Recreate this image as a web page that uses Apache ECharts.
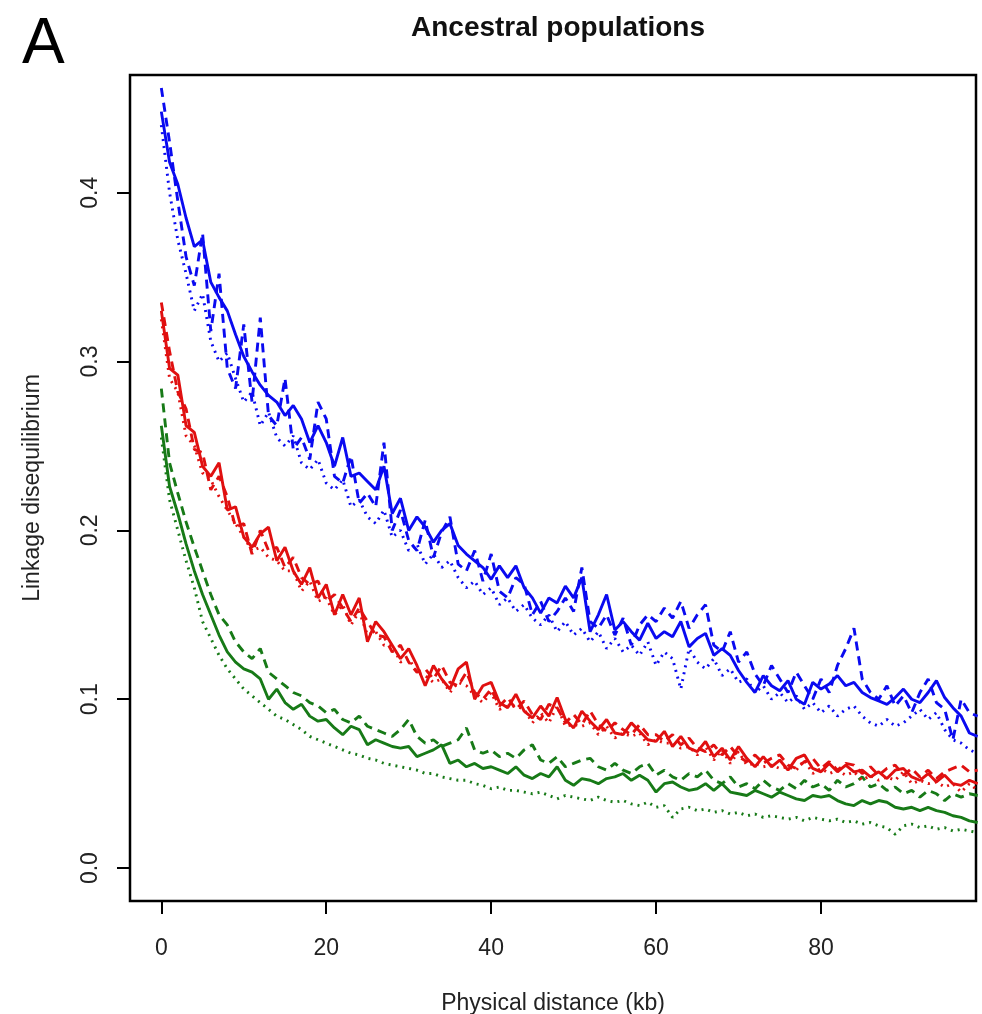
<!DOCTYPE html>
<html>
<head>
<meta charset="utf-8">
<title>Ancestral populations</title>
<script src="https://cdn.jsdelivr.net/npm/echarts@6/dist/echarts.min.js"></script>
<style>
  html, body { margin: 0; padding: 0; background: #fff; }
  #chart { width: 982px; height: 1014px; }
</style>
</head>
<body>
<div id="chart"></div>
<script>
// LD decay, one value per kb (0..99)
var xTicks = [0, 20, 40, 60, 80];
var yTicks = [0, 0.1, 0.2, 0.3, 0.4];

var blueSolid = [0.448,0.418,0.405,0.385,0.368,0.372,0.347,0.338,0.330,0.316,
  0.303,0.294,0.286,0.280,0.276,0.268,0.274,0.266,0.252,0.262,
  0.252,0.238,0.255,0.232,0.234,0.229,0.224,0.238,0.210,0.219,
  0.200,0.208,0.202,0.193,0.200,0.204,0.191,0.186,0.182,0.178,
  0.171,0.179,0.172,0.179,0.166,0.160,0.151,0.160,0.157,0.167,
  0.160,0.172,0.140,0.150,0.162,0.141,0.146,0.140,0.135,0.145,
  0.136,0.140,0.137,0.146,0.131,0.136,0.139,0.126,0.130,0.126,
  0.117,0.110,0.104,0.114,0.108,0.105,0.111,0.100,0.097,0.110,
  0.106,0.109,0.114,0.108,0.110,0.104,0.101,0.099,0.097,0.101,
  0.106,0.100,0.098,0.104,0.111,0.101,0.095,0.090,0.080,0.078];
var blueDash = [0.462,0.430,0.395,0.362,0.345,0.376,0.318,0.352,0.296,0.284,
  0.322,0.276,0.326,0.268,0.262,0.290,0.248,0.255,0.242,0.276,
  0.266,0.232,0.228,0.244,0.216,0.222,0.214,0.252,0.200,0.212,
  0.194,0.188,0.206,0.184,0.199,0.208,0.180,0.176,0.188,0.170,
  0.186,0.164,0.160,0.172,0.168,0.150,0.158,0.146,0.152,0.160,
  0.152,0.178,0.146,0.142,0.150,0.138,0.148,0.132,0.144,0.150,
  0.146,0.154,0.148,0.158,0.142,0.150,0.156,0.132,0.128,0.140,
  0.122,0.128,0.115,0.108,0.120,0.112,0.104,0.116,0.108,0.100,
  0.112,0.104,0.120,0.130,0.142,0.112,0.104,0.100,0.108,0.096,
  0.102,0.092,0.104,0.112,0.098,0.094,0.076,0.100,0.092,0.090];
var blueDot = [0.440,0.400,0.372,0.352,0.330,0.340,0.312,0.300,0.305,0.290,
  0.276,0.282,0.262,0.270,0.255,0.250,0.256,0.240,0.236,0.242,
  0.228,0.224,0.230,0.214,0.218,0.208,0.204,0.212,0.196,0.200,
  0.188,0.192,0.180,0.186,0.178,0.182,0.172,0.166,0.170,0.162,
  0.166,0.156,0.160,0.152,0.156,0.148,0.144,0.150,0.140,0.146,
  0.138,0.142,0.134,0.140,0.130,0.136,0.128,0.132,0.126,0.134,
  0.120,0.128,0.124,0.106,0.130,0.122,0.118,0.124,0.114,0.118,
  0.110,0.112,0.104,0.108,0.100,0.104,0.098,0.102,0.094,0.098,
  0.092,0.096,0.090,0.094,0.096,0.090,0.086,0.084,0.088,0.084,
  0.086,0.090,0.094,0.088,0.092,0.082,0.076,0.074,0.070,0.068];

var redSolid = [0.330,0.296,0.292,0.262,0.258,0.238,0.232,0.240,0.212,0.214,
  0.196,0.190,0.198,0.202,0.182,0.190,0.176,0.168,0.178,0.160,
  0.168,0.150,0.162,0.150,0.160,0.134,0.146,0.140,0.132,0.124,
  0.130,0.120,0.108,0.120,0.112,0.106,0.118,0.122,0.100,0.108,
  0.110,0.098,0.095,0.103,0.093,0.089,0.096,0.090,0.101,0.088,
  0.083,0.093,0.087,0.082,0.088,0.080,0.079,0.086,0.081,0.076,
  0.075,0.081,0.072,0.078,0.071,0.069,0.075,0.066,0.071,0.064,
  0.072,0.065,0.060,0.066,0.060,0.064,0.058,0.065,0.067,0.059,
  0.057,0.062,0.057,0.061,0.057,0.058,0.054,0.057,0.053,0.058,
  0.059,0.054,0.052,0.056,0.051,0.055,0.050,0.049,0.052,0.050];
var redDash = [0.335,0.306,0.282,0.272,0.248,0.246,0.224,0.232,0.220,0.202,
  0.204,0.186,0.200,0.188,0.190,0.178,0.184,0.172,0.168,0.170,
  0.158,0.162,0.154,0.146,0.154,0.146,0.138,0.137,0.128,0.132,
  0.122,0.116,0.118,0.112,0.120,0.110,0.108,0.116,0.104,0.100,
  0.106,0.096,0.101,0.094,0.099,0.091,0.088,0.097,0.095,0.086,
  0.091,0.085,0.093,0.085,0.081,0.086,0.082,0.079,0.085,0.079,
  0.079,0.075,0.079,0.073,0.077,0.071,0.069,0.073,0.067,0.072,
  0.066,0.063,0.067,0.062,0.065,0.067,0.061,0.059,0.063,0.065,
  0.059,0.063,0.058,0.062,0.061,0.056,0.060,0.055,0.059,0.061,
  0.055,0.059,0.054,0.058,0.053,0.057,0.059,0.061,0.057,0.058];
var redDot = [0.325,0.290,0.282,0.256,0.250,0.234,0.230,0.220,0.212,0.204,
  0.196,0.188,0.190,0.184,0.182,0.176,0.176,0.164,0.170,0.158,
  0.160,0.150,0.156,0.144,0.152,0.138,0.140,0.132,0.132,0.122,
  0.124,0.116,0.114,0.110,0.112,0.104,0.110,0.108,0.102,0.098,
  0.104,0.094,0.096,0.096,0.094,0.086,0.092,0.086,0.096,0.084,
  0.085,0.084,0.086,0.079,0.084,0.077,0.080,0.078,0.080,0.073,
  0.076,0.074,0.074,0.071,0.072,0.067,0.072,0.064,0.070,0.062,
  0.069,0.061,0.062,0.060,0.061,0.059,0.060,0.058,0.064,0.056,
  0.059,0.056,0.058,0.055,0.057,0.052,0.055,0.052,0.054,0.052,
  0.057,0.050,0.052,0.050,0.051,0.048,0.050,0.045,0.050,0.046];

var greenSolid = [0.262,0.226,0.210,0.192,0.176,0.162,0.150,0.138,0.128,0.122,
  0.118,0.116,0.112,0.100,0.106,0.098,0.094,0.097,0.090,0.087,
  0.088,0.083,0.079,0.084,0.082,0.073,0.076,0.074,0.072,0.071,
  0.072,0.066,0.068,0.070,0.073,0.062,0.064,0.060,0.062,0.059,
  0.060,0.058,0.056,0.060,0.055,0.053,0.056,0.054,0.060,0.052,
  0.049,0.053,0.052,0.050,0.053,0.054,0.056,0.052,0.055,0.052,
  0.045,0.050,0.051,0.048,0.046,0.047,0.050,0.046,0.050,0.045,
  0.044,0.043,0.046,0.044,0.042,0.045,0.043,0.041,0.040,0.043,
  0.042,0.043,0.040,0.038,0.037,0.040,0.038,0.040,0.039,0.036,
  0.035,0.036,0.034,0.036,0.034,0.033,0.031,0.030,0.028,0.027];
var greenDash = [0.284,0.240,0.222,0.205,0.190,0.176,0.162,0.150,0.144,0.134,
  0.128,0.124,0.130,0.116,0.112,0.108,0.104,0.102,0.098,0.096,
  0.092,0.094,0.088,0.086,0.090,0.084,0.082,0.080,0.078,0.082,
  0.088,0.078,0.074,0.076,0.072,0.074,0.076,0.083,0.070,0.068,
  0.070,0.066,0.068,0.065,0.070,0.073,0.064,0.062,0.066,0.060,
  0.062,0.064,0.065,0.060,0.058,0.062,0.058,0.056,0.060,0.062,
  0.055,0.058,0.054,0.052,0.056,0.054,0.058,0.052,0.050,0.054,
  0.048,0.050,0.047,0.052,0.048,0.046,0.050,0.047,0.052,0.048,
  0.050,0.046,0.052,0.048,0.050,0.054,0.048,0.050,0.046,0.048,
  0.044,0.046,0.042,0.046,0.044,0.040,0.044,0.042,0.044,0.043];
var greenDot = [0.255,0.218,0.200,0.182,0.166,0.146,0.136,0.126,0.118,0.112,
  0.106,0.102,0.098,0.094,0.090,0.088,0.085,0.082,0.078,0.076,
  0.074,0.072,0.070,0.068,0.067,0.065,0.064,0.062,0.061,0.060,
  0.059,0.058,0.056,0.056,0.054,0.053,0.052,0.052,0.050,0.049,
  0.047,0.048,0.046,0.046,0.045,0.044,0.045,0.043,0.041,0.043,
  0.042,0.041,0.040,0.042,0.040,0.039,0.040,0.038,0.037,0.039,
  0.036,0.037,0.030,0.035,0.036,0.034,0.035,0.033,0.034,0.032,
  0.033,0.031,0.032,0.030,0.031,0.030,0.029,0.030,0.028,0.030,
  0.029,0.028,0.029,0.027,0.028,0.026,0.027,0.025,0.024,0.020,
  0.025,0.026,0.024,0.025,0.023,0.024,0.022,0.023,0.022,0.021];

var BLUE = '#0a0af0';
var RED = '#e01010';
var GREEN = '#177a17';
var FONT = '"Liberation Sans", Arial, Helvetica, sans-serif';

function line(name, values, color, dash) {
  return {
    name: name,
    type: 'line',
    showSymbol: false,
    symbol: 'none',
    clip: true,
    data: values.map(function (v, i) { return [i, v]; }),
    lineStyle: { color: color, width: 2.9, type: dash, cap: 'butt' }
  };
}

var chart = echarts.init(document.getElementById('chart'));

var option = {
  animation: false,
  backgroundColor: '#fff',
  title: [{
    text: 'Ancestral populations',
    left: 553,
    top: 9,
    textAlign: 'center',
    textStyle: { fontFamily: FONT, fontSize: 28, fontWeight: 'bold', color: '#111' }
  }, {
    text: 'A',
    left: 17,
    top: 8,
    textStyle: { fontFamily: FONT, fontSize: 64, fontWeight: 'normal', color: '#000' }
  }],
  grid: {
    left: 130, right: 6, top: 75, bottom: 113,
    outerBoundsMode: 'none',
    containLabel: false,
    show: true, borderColor: '#000', borderWidth: 2.5, backgroundColor: 'transparent'
  },
  xAxis: {
    type: 'value',
    min: -3.8,
    max: 98.8,
    name: 'Physical distance (kb)',
    nameLocation: 'middle',
    nameGap: 91,
    nameTextStyle: { fontFamily: FONT, fontSize: 23, color: '#222' },
    axisLine: { show: false, onZero: false },
    splitLine: { show: false },
    axisTick: { show: true, inside: false, length: 13, customValues: xTicks,
      lineStyle: { color: '#000', width: 2 } },
    axisLabel: { customValues: xTicks, margin: 36, fontFamily: FONT, fontSize: 23, color: '#222' }
  },
  yAxis: {
    type: 'value',
    min: -0.0195,
    max: 0.4697,
    name: 'Linkage disequilibrium',
    nameLocation: 'middle',
    nameGap: 86,
    nameTextStyle: { fontFamily: FONT, fontSize: 23, color: '#222' },
    axisLine: { show: false, onZero: false },
    splitLine: { show: false },
    axisTick: { show: true, inside: false, length: 13, customValues: yTicks,
      lineStyle: { color: '#000', width: 2 } },
    axisLabel: { customValues: yTicks, rotate: 90, margin: 28, fontFamily: FONT, fontSize: 23, color: '#222',
      formatter: function (v) { return v.toFixed(1); } }
  },
  series: [
    line('green dotted', greenDot, GREEN, [2, 5]),
    line('green dashed', greenDash, GREEN, [9, 6]),
    line('green solid', greenSolid, GREEN, 'solid'),
    line('red dotted', redDot, RED, [2, 5]),
    line('red dashed', redDash, RED, [9, 6]),
    line('red solid', redSolid, RED, 'solid'),
    line('blue dotted', blueDot, BLUE, [2, 5]),
    line('blue dashed', blueDash, BLUE, [9, 6]),
    line('blue solid', blueSolid, BLUE, 'solid')
  ]
};

chart.setOption(option);

window.addEventListener('resize', function () {
  chart.resize();
});
</script>
</body>
</html>
